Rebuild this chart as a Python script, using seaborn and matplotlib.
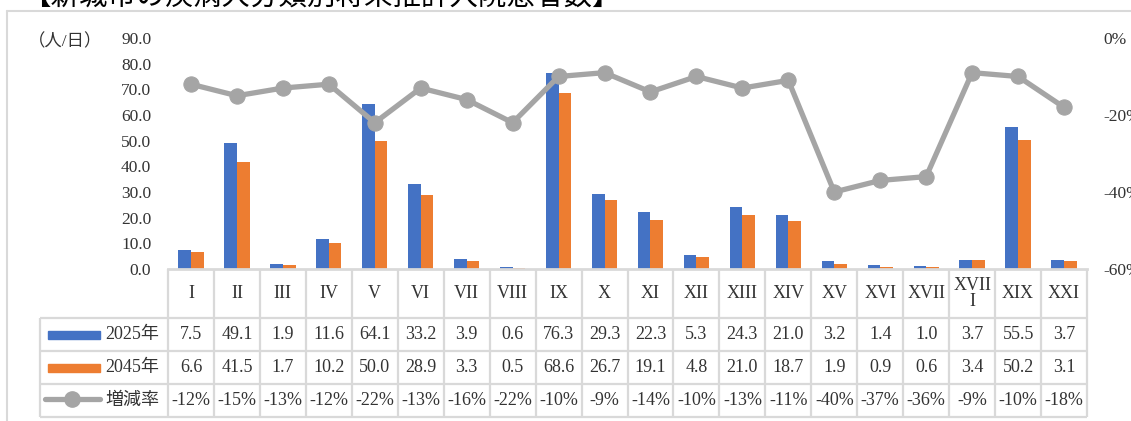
import numpy as np
import pandas as pd
import matplotlib
matplotlib.use("Agg")
import matplotlib.pyplot as plt
from matplotlib.lines import Line2D
import seaborn as sns

# ---------------- data ----------------
categories = ["I", "II", "III", "IV", "V", "VI", "VII", "VIII", "IX", "X",
              "XI", "XII", "XIII", "XIV", "XV", "XVI", "XVII", "XVIII", "XIX", "XXI"]
header_labels = ["I", "II", "III", "IV", "V", "VI", "VII", "VIII", "IX", "X",
                 "XI", "XII", "XIII", "XIV", "XV", "XVI", "XVII", "XVII\nI", "XIX", "XXI"]
values_2025 = [7.5, 49.1, 1.9, 11.6, 64.1, 33.2, 3.9, 0.6, 76.3, 29.3,
               22.3, 5.3, 24.3, 21.0, 3.2, 1.4, 1.0, 3.7, 55.5, 3.7]
values_2045 = [6.6, 41.5, 1.7, 10.2, 50.0, 28.9, 3.3, 0.5, 68.6, 26.7,
               19.1, 4.8, 21.0, 18.7, 1.9, 0.9, 0.6, 3.4, 50.2, 3.1]
change_pct = [-12, -15, -13, -12, -22, -13, -16, -22, -10, -9,
              -14, -10, -13, -11, -40, -37, -36, -9, -10, -18]
series_names = ["2025年", "2045年"]
rate_name = "増減率"
y_label = "（人/日）"
title = "【新城市の疾病大分類別将来推計入院患者数】"
left_ticks = [0, 10, 20, 30, 40, 50, 60, 70, 80, 90]
right_ticks = [0, -20, -40, -60]

BLUE = "#4472C4"
ORANGE = "#ED7D31"
GRAY = "#A5A5A5"
GRID = "#D9D9D9"
TXT = "#333333"

# ---------------- style ----------------
sns.set_style("white")
plt.rcParams["font.family"] = ["Liberation Serif", "Noto Sans CJK JP"]
plt.rcParams["axes.unicode_minus"] = False

W, H = 1131, 421
fig = plt.figure(figsize=(W / 100, H / 100), dpi=100)


def rect(l, t, r, b):
    return [l / W, 1 - b / H, (r - l) / W, (b - t) / H]


PL, PR, PT, PB = 168, 1087, 38, 269
n = len(categories)
colw = (PR - PL) / n

# ---------------- bars ----------------
ax = fig.add_axes(rect(PL, PT, PR, PB))
pos = np.arange(n)
df = pd.DataFrame({
    "pos": np.concatenate([pos, pos]),
    "value": values_2025 + values_2045,
    "year": [series_names[0]] * n + [series_names[1]] * n,
})
sns.barplot(data=df, x="pos", y="value", hue="year", palette=[BLUE, ORANGE],
            width=0.55, saturation=1, legend=False, ax=ax, native_scale=True,
            edgecolor="none")
ax.set_xlim(-0.5, n - 0.5)
ax.set_ylim(0, 90)
ax.set_yticks(left_ticks)
ax.set_yticklabels([f"{v:.1f}" for v in left_ticks], fontsize=12.5, color=TXT)
ax.tick_params(axis="y", length=0, pad=12)
ax.set_xticks([])
ax.set_xlabel("")
ax.set_ylabel("")
for s in ["top", "right", "left"]:
    ax.spines[s].set_visible(False)
ax.spines["bottom"].set_color(GRID)
ax.spines["bottom"].set_linewidth(2)
ax.patch.set_alpha(0)

# ---------------- line ----------------
ax2 = ax.twinx()
sns.lineplot(x=pos, y=np.array(change_pct), ax=ax2, color=GRAY, linewidth=3.8,
             marker="o", markersize=11, markeredgecolor=GRAY, zorder=5)
ax2.set_ylim(-60, 0)
ax2.set_xlim(-0.5, n - 0.5)
ax2.set_yticks(right_ticks)
ax2.set_yticklabels([f"{v}%" for v in right_ticks], fontsize=12.5, color=TXT)
ax2.tick_params(axis="y", length=0, pad=12)
ax2.set_ylabel("")
for s in ax2.spines.values():
    s.set_visible(False)

# ---------------- data table ----------------
TL, TT, TB = 40, 269, 417
rows_y = [318, 351, 384, 417]
tax = fig.add_axes(rect(TL, TT, PR, TB))
tax.set_xlim(-0.5 - (PL - TL) / colw, n - 0.5)
tax.set_ylim(TB, TT)
tax.axis("off")
left_x = -0.5 - (PL - TL) / colw
lk = dict(color=GRID, lw=1.6, clip_on=False, solid_capstyle="butt")
for i in range(n + 1):
    tax.plot([i - 0.5, i - 0.5], [TT, TB], **lk)
tax.plot([left_x, left_x], [rows_y[0], TB], **lk)
for yy in rows_y:
    tax.plot([left_x, n - 0.5], [yy, yy], **lk)

for i, lab in enumerate(header_labels):
    tax.text(i, (TT + rows_y[0]) / 2, lab, ha="center", va="center",
             fontsize=13, color=TXT, linespacing=0.95)

row_vals = [[f"{v:.1f}" for v in values_2025],
            [f"{v:.1f}" for v in values_2045],
            [f"{v}%" for v in change_pct]]
row_centers = [(rows_y[k] + rows_y[k + 1]) / 2 for k in range(3)]
for k, vals in enumerate(row_vals):
    for i, s in enumerate(vals):
        tax.text(i, row_centers[k], s, ha="center", va="center",
                 fontsize=13, color=TXT)

# legend keys in table
key_l = left_x + 8 / colw
key_r = left_x + 60 / colw
txt_x = left_x + 65 / colw
tax.add_patch(plt.Rectangle((key_l, row_centers[0] - 4), key_r - key_l, 8,
                            color=BLUE, clip_on=False))
tax.add_patch(plt.Rectangle((key_l, row_centers[1] - 4), key_r - key_l, 8,
                            color=ORANGE, clip_on=False))
tax.plot([key_l - 3 / colw, key_r], [row_centers[2] - 2, row_centers[2] - 2],
         color=GRAY, lw=3.8, clip_on=False)
tax.plot([(key_l + key_r) / 2 - 1.5 / colw], [row_centers[2] - 2], "o",
         color=GRAY, ms=11, clip_on=False)
for k, name in enumerate(series_names + [rate_name]):
    tax.text(txt_x, row_centers[k], name, ha="left", va="center",
             fontsize=13, color=TXT)

# ---------------- frame, labels, title ----------------
fig.add_artist(Line2D([7 / W, 1], [1 - 11 / H, 1 - 11 / H], color=GRID, lw=1.5,
                      transform=fig.transFigure))
fig.add_artist(Line2D([7 / W, 7 / W], [0, 1 - 11 / H], color=GRID, lw=1.5,
                      transform=fig.transFigure))
fig.text(28 / W, 1 - 42 / H, y_label, ha="left", va="center", fontsize=12.5,
         color=TXT)
fig.text(22 / W, 1 - 5 / H, title, ha="left", va="baseline", fontsize=20.5,
         color="black")

fig.savefig("out.png", dpi=100)
